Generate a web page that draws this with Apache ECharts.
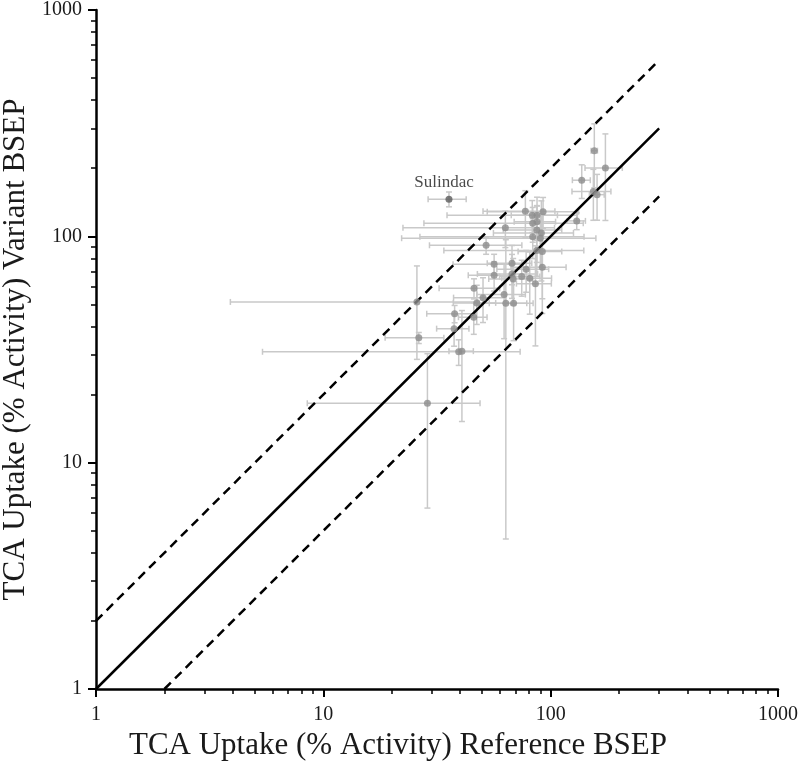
<!DOCTYPE html>
<html>
<head>
<meta charset="utf-8">
<script src="https://cdn.jsdelivr.net/npm/echarts@6/dist/echarts.min.js"></script>
<style>
  html, body { margin: 0; padding: 0; background: #fff; }
  #chart { width: 800px; height: 768px; }
</style>
</head>
<body>
<div id="chart"></div>
<script>
// TCA uptake: reference BSEP (x) vs variant BSEP (y), mean +/- SD
const refValues = [155.6, 174.1, 137, 154.1, 160, 77.4, 83, 87.1, 92.6, 130.2,
  83.4, 87.1, 63.2, 86.9, 91, 83.4, 90.1, 52, 86.9, 91.9,
  56.4, 67.6, 78, 91.9, 56.4, 67.6, 68.4, 74.6, 80.9, 85.7,
  46, 62.4, 50.4, 47.3, 63.5, 68.7, 25.8, 37.8, 45.9, 37.6,
  26.3, 39.4, 40.7, 28.7];
const variantValues = [239, 200.5, 177, 157.7, 152.8, 129.1, 123.9, 123.9, 128.5, 117,
  114.2, 116.1, 109.2, 106.7, 103.5, 99.7, 98.1, 91.3, 86.5, 85.6,
  75.3, 76.1, 71.6, 73, 67.3, 68.2, 64.8, 66.4, 65.3, 61.8,
  58.9, 55.3, 53.6, 50.8, 50.6, 50.6, 51.3, 45.5, 43.9, 39.1,
  35.6, 30.9, 31.1, 18.3];
const refErr = [5, 32.5, 12.4, 30, 12, 27, 48, 20, 40, 12,
  55.7, 18, 40.8, 25, 35, 56.8, 68, 22.7, 53, 20,
  19.2, 15, 20, 25, 13, 20, 15, 15, 20, 15,
  13.7, 15, 13, 10, 15, 15, 21.9, 9.3, 6.6, 6.1,
  7.6, 34, 5, 20.2];
const variantErr = [75, 83, 30, 40, 35, 30, 20, 25, 20, 10,
  20, 20, 20, 30, 40, 20, 25, 8, 20, 40,
  8, 15, 15, 20, 10, 15, 15, 12, 20, 29,
  6, 20, 12, 10, 46, 16, 22.7, 4, 7, 6.4,
  2, 4, 15.9, 12];

const sulindac = [35.7, 146, 6.8, 11];

// identity and 2-fold lines
const identityLine = [[1, 1], [300, 300]];
const upperFoldLine = [[1, 2], [300, 600]];
const lowerFoldLine = [[2, 1], [300, 150]];

const majorTicks = [1, 10, 100, 1000];
const minorTicks = [2, 3, 4, 5, 6, 7, 8, 9, 20, 30, 40, 50, 60, 70, 80, 90,
  200, 300, 400, 500, 600, 700, 800, 900];

const points = refValues.map((x, i) => [x, variantValues[i], refErr[i], variantErr[i]]);

const chart = echarts.init(document.getElementById('chart'), null, { renderer: 'canvas' });

const serif = '"Liberation Serif", "DejaVu Serif", serif';
const axisMin = 1;

// error bars drawn through the axis scales
const renderErrorBar = (params, api) => {
  const x = api.value(0), y = api.value(1), xe = api.value(2), ye = api.value(3);
  const cap = 3;
  const style = { stroke: '#c9c9c9', lineWidth: 1.5, fill: null };
  const children = [];
  const left = api.coord([Math.max(x - xe, axisMin), y]);
  const right = api.coord([x + xe, y]);
  children.push({ type: 'line', shape: { x1: left[0], y1: left[1], x2: right[0], y2: right[1] }, style });
  children.push({ type: 'line', shape: { x1: left[0], y1: left[1] - cap, x2: left[0], y2: left[1] + cap }, style });
  children.push({ type: 'line', shape: { x1: right[0], y1: right[1] - cap, x2: right[0], y2: right[1] + cap }, style });
  if (ye > 0) {
    const top = api.coord([x, y + ye]);
    const bot = api.coord([x, Math.max(y - ye, axisMin)]);
    children.push({ type: 'line', shape: { x1: top[0], y1: top[1], x2: bot[0], y2: bot[1] }, style });
    children.push({ type: 'line', shape: { x1: top[0] - cap, y1: top[1], x2: top[0] + cap, y2: top[1] }, style });
    children.push({ type: 'line', shape: { x1: bot[0] - cap, y1: bot[1], x2: bot[0] + cap, y2: bot[1] }, style });
  }
  return { type: 'group', children };
};

const baseAxis = {
  type: 'log',
  logBase: 10,
  min: 1,
  max: 1000,
  splitLine: { show: false },
};

const tickLabel = {
  fontFamily: serif,
  fontSize: 20,
  color: '#1a1a1a',
  margin: 16,
  customValues: majorTicks,
  formatter: (v) => String(Math.round(v)),
};

chart.setOption({
  backgroundColor: '#fff',
  animation: false,
  grid: { left: 96, right: 22, top: 10, bottom: 79, outerBoundsMode: 'none', containLabel: false },
  xAxis: [
    {
      ...baseAxis,
      name: 'TCA Uptake (% Activity) Reference BSEP',
      nameLocation: 'middle',
      nameGap: 38,
      nameTextStyle: { fontFamily: serif, fontSize: 31, color: '#1a1a1a', padding: [0, 78, 0, 0] },
      axisLine: { lineStyle: { color: '#000', width: 2.5 } },
      axisTick: { length: 8, lineStyle: { color: '#000', width: 2 }, customValues: majorTicks },
      axisLabel: tickLabel,
    },
    {
      ...baseAxis,
      position: 'bottom',
      axisLine: { show: false },
      axisLabel: { show: false },
      axisTick: { length: 5, lineStyle: { color: '#000', width: 1.5 }, customValues: minorTicks },
    },
  ],
  yAxis: [
    {
      ...baseAxis,
      name: 'TCA Uptake (% Activity) Variant BSEP',
      nameLocation: 'middle',
      nameGap: 62,
      nameTextStyle: { fontFamily: serif, fontSize: 31, color: '#1a1a1a' },
      axisLine: { lineStyle: { color: '#000', width: 2.5 } },
      axisTick: { length: 8, lineStyle: { color: '#000', width: 2 }, customValues: majorTicks },
      axisLabel: { ...tickLabel, margin: 14 },
    },
    {
      ...baseAxis,
      position: 'left',
      axisLine: { show: false },
      axisLabel: { show: false },
      axisTick: { length: 5, lineStyle: { color: '#000', width: 1.5 }, customValues: minorTicks },
    },
  ],
  series: [
    {
      type: 'custom',
      renderItem: renderErrorBar,
      data: [...points, sulindac],
      encode: { x: 0, y: 1 },
      z: 1,
      silent: true,
    },
    {
      type: 'line',
      data: identityLine,
      symbol: 'none',
      lineStyle: { color: '#000', width: 2.5 },
      z: 2,
    },
    {
      type: 'line',
      data: upperFoldLine,
      symbol: 'none',
      lineStyle: { color: '#000', width: 2.5, type: [9, 6] },
      z: 2,
    },
    {
      type: 'line',
      data: lowerFoldLine,
      symbol: 'none',
      lineStyle: { color: '#000', width: 2.5, type: [9, 6] },
      z: 2,
    },
    {
      type: 'scatter',
      data: points.map((p) => [p[0], p[1]]),
      symbolSize: 7,
      itemStyle: { color: '#8c8c8c' },
      z: 3,
    },
    {
      type: 'scatter',
      data: [[sulindac[0], sulindac[1]]],
      symbolSize: 7,
      itemStyle: { color: '#5a5a5a' },
      label: {
        show: true,
        position: 'top',
        distance: 5,
        offset: [-5, 0],
        formatter: 'Sulindac',
        fontFamily: serif,
        fontSize: 17,
        color: '#1a1a1a',
      },
      z: 3,
    },
  ],
});
</script>
</body>
</html>
